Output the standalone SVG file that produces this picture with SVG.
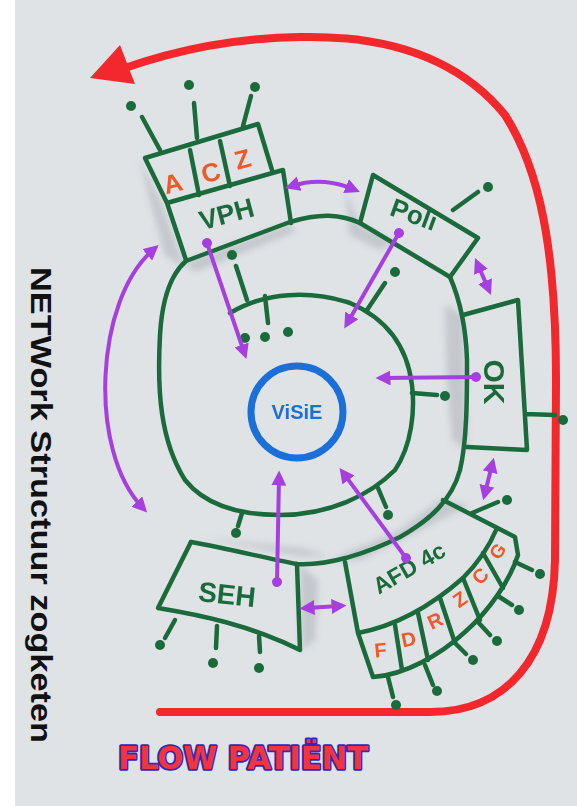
<svg xmlns="http://www.w3.org/2000/svg" width="577" height="806" viewBox="0 0 577 806">
  <defs>
    <style>
      .g { fill: none; stroke: #1a6a3c; stroke-width: 4.5; stroke-linecap: round; stroke-linejoin: round; }
      .dot { fill: #1a6a3c; }
      .p { fill: none; stroke: #a63fe0; stroke-width: 4; stroke-linecap: round; }
      .lbl { font-family: "Liberation Sans", Arial, sans-serif; font-weight: bold; fill: #1a6a3c; text-anchor: middle; }
      .or { font-family: "Liberation Sans", Arial, sans-serif; font-weight: bold; fill: #f0582a; text-anchor: middle; }
      .sh { fill: #8f969e; opacity: 0.35; }
    </style>
    <marker id="ah" viewBox="0 0 10 10" refX="5" refY="5" markerWidth="15" markerHeight="15" markerUnits="userSpaceOnUse" orient="auto-start-reverse">
      <path d="M0,0 L10,5 L0,10 Z" fill="#a63fe0"/>
    </marker>
    <marker id="blob" viewBox="0 0 10 10" refX="5" refY="5" markerWidth="10" markerHeight="10" markerUnits="userSpaceOnUse" orient="auto">
      <circle cx="5" cy="5" r="5" fill="#a63fe0"/>
    </marker>
    <filter id="blur" x="-20%" y="-20%" width="140%" height="140%">
      <feGaussianBlur stdDeviation="3"/>
    </filter>
  </defs>

  <!-- paper -->
  <rect x="0" y="0" width="577" height="806" fill="#ffffff"/>
  <rect x="15" y="0" width="562" height="806" fill="#dfe3e6"/>

  <!-- paper shadows -->
  <g id="shadows" filter="url(#blur)">
    <path class="sh" d="M140 160 L150 200 L165 255 L185 268 L175 240 L160 200 Z"/>
    <path class="sh" d="M185 262 L290 224 L295 232 L195 272 Z"/>
    <path class="sh" d="M345 190 L360 225 L395 242 L380 250 L350 235 Z"/>
    <path class="sh" d="M445 305 L463 315 L467 450 L452 440 L447 380 Z"/>
    <path class="sh" d="M330 560 L400 530 L440 500 L470 505 L440 520 L360 560 Z"/>
    <path class="sh" d="M300 565 L318 580 L315 640 L302 650 Z"/>
    <path class="sh" d="M200 538 L300 556 L330 556 L300 548 Z"/>
  </g>

  <!-- red flow arrow -->
  <g id="flow-arrow">
    <path d="M160 712 L430 712 C505 712 553 660 555 560 L556 380 C556 250 540 170 505 115 C460 60 390 35 300 37 C230 38 170 52 122 69" fill="none" stroke="#f2282c" stroke-width="8" stroke-linecap="round"/>
    <polygon points="90,78 120,45 135,84" fill="#f2282c"/>
  </g>

  <!-- green ring -->
  <g id="ring">
    <path class="g" d="M191 542 C230 549 265 558 297 564 C330 566 370 552 400 537 C430 520 452 500 460 470 C467 440 467 400 467 360 C466 330 460 300 450 277 L360 223 C340 214 320 213 290 222 L186 261 C170 275 162 300 160 335 C157 390 160 440 185 480 C205 505 240 515 280 515 C330 515 370 495 395 470 C412 445 415 410 412 385 C407 345 385 318 350 303 C310 290 265 292 230 313"/>
    <path class="g" d="M236 266 L247 300 M265 296 L268 323 M367 310 L385 283 M412 393 L437 395 M242 513 L238 526 M378 488 L386 507"/>
    <circle class="dot" cx="232" cy="255" r="5"/>
    <circle class="dot" cx="245" cy="338" r="5"/>
    <circle class="dot" cx="265" cy="337" r="5"/>
    <circle class="dot" cx="288" cy="332" r="5"/>
    <circle class="dot" cx="395" cy="272" r="5"/>
    <circle class="dot" cx="445" cy="396" r="5"/>
    <circle class="dot" cx="236" cy="533" r="5"/>
    <circle class="dot" cx="388" cy="515" r="5"/>
  </g>

  <!-- VISIE -->
  <g id="visie">
    <circle cx="297" cy="412" r="46" fill="none" stroke="#1b6fd8" stroke-width="7"/>
    <text x="297" y="419" font-family="Liberation Sans, Arial, sans-serif" font-weight="bold" font-size="20" fill="#1b6fd8" text-anchor="middle">ViSiE</text>
  </g>

  <!-- VPH / ACZ -->
  <g id="vph">
    <path class="g" d="M145 158 L258 124 L272 170 M167 203 L283 170 L291 223 M145 158 L167 203 L186 260 M190 150 L199 195 M220 141 L230 186"/>
    <path class="g" d="M160 150 L142 117 M197 138 L194 103 M243 126 L251 96"/>
    <circle class="dot" cx="131" cy="106" r="5"/>
    <circle class="dot" cx="189" cy="85" r="5"/>
    <circle class="dot" cx="255" cy="87" r="5"/>
    <text class="or" font-size="26" transform="translate(175,192) rotate(-15)">A</text>
    <text class="or" font-size="26" transform="translate(213,181) rotate(-15)">C</text>
    <text class="or" font-size="26" transform="translate(245,168) rotate(-15)">Z</text>
    <text class="lbl" font-size="27" transform="translate(229,223) rotate(-15)">VPH</text>
  </g>

  <!-- Poli -->
  <g id="poli">
    <path class="g" d="M360 223 L373 175 L478 238 L450 277 M453 210 L478 192"/>
    <circle class="dot" cx="488" cy="187" r="5"/>
    <text class="lbl" font-size="26" transform="translate(411,223) rotate(20)">Poli</text>
  </g>

  <!-- OK -->
  <g id="ok">
    <path class="g" d="M463 315 L518 300 L527 450 L467 447 M525 414 L555 415"/>
    <circle class="dot" cx="563" cy="420" r="5"/>
    <text class="lbl" font-size="30" transform="translate(484,382) rotate(90)">OK</text>
  </g>

  <!-- AFD 4C -->
  <g id="afd">
    <path class="g" d="M345 562 L358 633 L373 677 M358 633 C395 626 430 607 463 578 C478 563 490 545 497 528 M443 500 L515 537 L518 555 C510 580 490 610 465 632 C440 655 405 675 373 677"/>
    <path class="g" d="M395 625 L402 670 M418 613 L428 660 M440 598 L455 643 M463 578 L480 620 M483 553 L503 588"/>
    <path class="g" d="M388 677 L393 697 M425 665 L433 685 M455 643 L466 654 M478 622 L490 635 M498 596 L512 605 M515 562 L532 570 M472 513 L498 502"/>
    <circle class="dot" cx="396" cy="705" r="5"/>
    <circle class="dot" cx="437" cy="691" r="5"/>
    <circle class="dot" cx="473" cy="660" r="5"/>
    <circle class="dot" cx="497" cy="641" r="5"/>
    <circle class="dot" cx="519" cy="610" r="5"/>
    <circle class="dot" cx="540" cy="574" r="5"/>
    <circle class="dot" cx="507" cy="500" r="5"/>
    <text class="lbl" font-size="23" transform="translate(413,575) rotate(-30)">AFD 4c</text>
    <text class="or" font-size="20" transform="translate(381,657) rotate(-5)">F</text>
    <text class="or" font-size="20" transform="translate(410,646) rotate(-12)">D</text>
    <text class="or" font-size="20" transform="translate(438,627) rotate(-25)">R</text>
    <text class="or" font-size="20" transform="translate(464,605) rotate(-35)">Z</text>
    <text class="or" font-size="20" transform="translate(485,581) rotate(-45)">C</text>
    <text class="or" font-size="19" transform="translate(503,555) rotate(-55)">G</text>
  </g>

  <!-- SEH -->
  <g id="seh">
    <path class="g" d="M191 542 L158 608 C200 615 250 625 300 650 L297 564 M175 620 L165 638 M217 626 L216 648 M259 636 L260 652"/>
    <circle class="dot" cx="160" cy="645" r="5"/>
    <circle class="dot" cx="213" cy="663" r="5"/>
    <circle class="dot" cx="259" cy="668" r="5"/>
    <text class="lbl" font-size="28" transform="translate(226,604) rotate(6)">SEH</text>
  </g>

  <!-- purple connectors -->
  <g id="connectors">
    <path class="p" d="M207 243 L244 352" marker-start="url(#blob)" marker-end="url(#ah)"/>
    <path class="p" d="M153 250 C95 300 88 450 142 507" marker-start="url(#ah)" marker-end="url(#ah)"/>
    <path class="p" d="M292 186 Q322 176 353 189" marker-start="url(#ah)" marker-end="url(#ah)"/>
    <path class="p" d="M399 233 L348 322" marker-start="url(#blob)" marker-end="url(#ah)"/>
    <path class="p" d="M476 377 L383 378" marker-start="url(#blob)" marker-end="url(#ah)"/>
    <path class="p" d="M478 265 L488 288" marker-start="url(#ah)" marker-end="url(#ah)"/>
    <path class="p" d="M492 465 L485 493" marker-start="url(#ah)" marker-end="url(#ah)"/>
    <path class="p" d="M406 558 L344 474" marker-start="url(#blob)" marker-end="url(#ah)"/>
    <path class="p" d="M277 582 L279 478" marker-start="url(#blob)" marker-end="url(#ah)"/>
    <path class="p" d="M307 608 L339 606" marker-start="url(#ah)" marker-end="url(#ah)"/>
  </g>

  <!-- side title -->
  <g id="title-side">
    <text transform="translate(31,267) rotate(90)" font-family="Liberation Sans, Arial, sans-serif" font-weight="bold" font-size="30" fill="#111" textLength="476" lengthAdjust="spacingAndGlyphs">NETWork Structuur zogketen</text>
  </g>

  <!-- bottom title -->
  <g id="title-bottom">
    <text x="118" y="769" font-family="DejaVu Sans, sans-serif" font-weight="bold" font-size="32" fill="#f2343c" stroke="#2a2ac8" stroke-width="3.5" stroke-linejoin="round" paint-order="stroke" textLength="250" lengthAdjust="spacingAndGlyphs">FLOW PATIËNT</text>
  </g>
</svg>
